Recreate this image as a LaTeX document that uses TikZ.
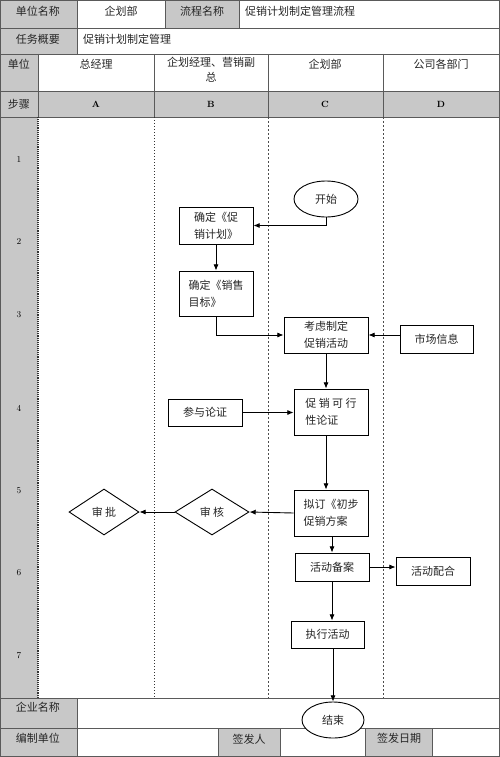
\documentclass[tikz,border=0pt]{standalone}
\usepackage{fontspec}
\usepackage{xcolor}
\usepackage{tikz}
\usetikzlibrary{arrows.meta,shapes.geometric}
\newfontfamily\cjk{Noto Sans CJK SC}
\definecolor{headgray}{RGB}{200,200,200}
\definecolor{rulegray}{RGB}{90,90,90}
\tikzset{
  cellfill/.style={fill=headgray},
  celltext/.style={font=\cjk\fontsize{11}{15}\selectfont, inner sep=0pt, align=center, text=black!85},
  flowbox/.style={
    draw,
    fill=white,
    line width=0.9pt,
    align=left,
    inner sep=2pt,
    font=\cjk\fontsize{11}{17}\selectfont,
    text=black!85
  },
  flowoval/.style={flowbox, ellipse, align=center},
  flowcheck/.style={flowbox, diamond, aspect=1.6, align=center, inner sep=0pt},
  flowarrow/.style={-{Latex[length=2.2mm,width=1.8mm]}, line width=0.9pt}
}

\begin{document}
\begin{tikzpicture}[x=1pt, y=-1pt]
  \useasboundingbox (0,0) rectangle (500,757);

  % grey header and side cells
  \fill[cellfill] (0,0) rectangle (77,28);
  \fill[cellfill] (165,0) rectangle (239,28);
  \fill[cellfill] (0,28) rectangle (77,54);
  \fill[cellfill] (0,54) rectangle (38,91);
  \fill[cellfill] (0,91) rectangle (500,117);
  \fill[cellfill] (0,117) rectangle (38,698);
  \fill[cellfill] (0,698) rectangle (77,728);
  \fill[cellfill] (0,728) rectangle (77,757);
  \fill[cellfill] (218,728) rectangle (280,757);
  \fill[cellfill] (365,728) rectangle (432,757);

  % table rules
  \draw[rulegray, line width=0.9pt] (0,28) -- (500,28) (0,54) -- (500,54)
    (0,91) -- (500,91) (0,117) -- (500,117) (0,698) -- (500,698) (0,728) -- (500,728);
  \draw[rulegray, line width=0.9pt] (77,0) -- (77,28) (165,0) -- (165,28) (239,0) -- (239,28)
    (77,28) -- (77,54)
    (38,54) -- (38,117) (154,54) -- (154,117) (268,54) -- (268,117) (383,54) -- (383,117)
    (77,698) -- (77,757) (218,728) -- (218,757) (280,728) -- (280,757)
    (365,728) -- (365,757) (432,728) -- (432,757);
  \draw[rulegray, line width=1.4pt] (0,0) rectangle (500,757);

  % lane separators
  \draw[black!80, line width=1.1pt, densely dotted] (38,117) -- (38,698);
  \draw[black!80, line width=1pt, dotted] (154,117) -- (154,698);
  \draw[black!70, line width=0.6pt, dash pattern=on 2pt off 2pt] (268,117) -- (268,698);
  \draw[black!70, line width=0.6pt, dash pattern=on 2pt off 2pt] (383,117) -- (383,698);

  % header texts
  \node[celltext] (hunit) at (38,11) {单位名称};
  \node[celltext] (hdept) at (121,11) {企划部};
  \node[celltext] (hflow) at (202,11) {流程名称};
  \node[celltext, anchor=west] (hflowname) at (245,11) {促销计划制定管理流程};
  \node[celltext] (htask) at (38,39) {任务概要};
  \node[celltext, anchor=west] (htaskname) at (83,39) {促销计划制定管理};
  \node[celltext] (hlane) at (19,64) {单位};
  \node[celltext] (hlaneA) at (96,64) {总经理};
  \node[celltext, anchor=north] (hlaneB) at (211,57) {企划经理、营销副\\总};
  \node[celltext] (hlaneC) at (325,64) {企划部};
  \node[celltext] (hlaneD) at (441,64) {公司各部门};
  \node[celltext] (hstep) at (19,104) {步骤};
  \node[font=\bfseries\small] (hstepA) at (96,104) {A};
  \node[font=\bfseries\small] (hstepB) at (211,104) {B};
  \node[font=\bfseries\small] (hstepC) at (325,104) {C};
  \node[font=\bfseries\small] (hstepD) at (441,104) {D};

  % step numbers
  \foreach \n/\y in {1/160,2/242,3/315,4/408,5/491,6/573,7/656}
    \node[font=\small] (step\n) at (19,\y) {\n};

  % footer texts
  \node[celltext] (fcompany) at (38,707) {企业名称};
  \node[celltext] (fmaker) at (38,738) {编制单位};
  \node[celltext] (fsigner) at (249,739) {签发人};
  \node[celltext] (fdate) at (399,738) {签发日期};

  % flow
  \node[flowoval, minimum width=64pt, minimum height=36pt] (nstart) at (326,199) {开始};
  \node[flowbox, minimum width=74pt, minimum height=37pt] (nplan) at (216,225.5) {确定《促\\销计划》};
  \node[flowbox, minimum width=74pt, minimum height=45pt] (ngoal) at (216,293.5) {确定《销售\\目标》};
  \node[flowbox, minimum width=84pt, minimum height=36pt] (nconsider) at (326,335) {考虑制定\\促销活动};
  \node[flowbox, minimum width=73pt, minimum height=28pt] (nmarket) at (436.5,339) {市场信息};
  \node[flowbox, minimum width=74pt, minimum height=46pt] (nfeas) at (331,412) {促 销 可 行\\性论证};
  \node[flowbox, minimum width=74pt, minimum height=27pt] (njoin) at (205,412.5) {参与论证};
  \node[flowbox, minimum width=74pt, minimum height=46pt] (ndraft) at (331,513) {拟订《初步\\促销方案};
  \node[flowcheck, minimum width=74pt, minimum height=46pt] (nreview) at (212,512) {审\ 核};
  \node[flowcheck, minimum width=70pt, minimum height=46pt] (napprove) at (104,512) {审\ 批};
  \node[flowbox, minimum width=74pt, minimum height=28pt] (nfile) at (332,567) {活动备案};
  \node[flowbox, minimum width=74pt, minimum height=28pt] (ncoop) at (433,571) {活动配合};
  \node[flowbox, minimum width=73pt, minimum height=27pt] (nexec) at (327.5,634.5) {执行活动};
  \node[flowoval, minimum width=62pt, minimum height=36pt] (nend) at (333,720) {结束};

  \draw[flowarrow] (nstart.south) |- (nplan.east);
  \draw[flowarrow] (nplan) -- (ngoal);
  \draw[flowarrow] (ngoal.south) |- (nconsider.west);
  \draw[flowarrow] (nmarket.west |- nconsider.east) -- (nconsider.east);
  \draw[flowarrow] (nconsider.south) -- (nconsider.south |- nfeas.north);
  \draw[flowarrow] (njoin.east) -- (njoin.east -| nfeas.west);
  \draw[flowarrow] (nconsider.south |- nfeas.south) -- (nconsider.south |- ndraft.north);
  \draw[flowarrow] (ndraft.west) -- (nreview.east);
  \draw[flowarrow] (nreview.west) -- (napprove.east);
  \draw[flowarrow] (ndraft.south -| nfile.north) -- (nfile.north);
  \draw[flowarrow] (nfile.east) -- (nfile.east -| ncoop.west);
  \draw[flowarrow] (nfile.south) -- (nfile.south |- nexec.north);
  \draw[flowarrow] (nend.north |- nexec.south) -- (nend.north);
\end{tikzpicture}
\end{document}
